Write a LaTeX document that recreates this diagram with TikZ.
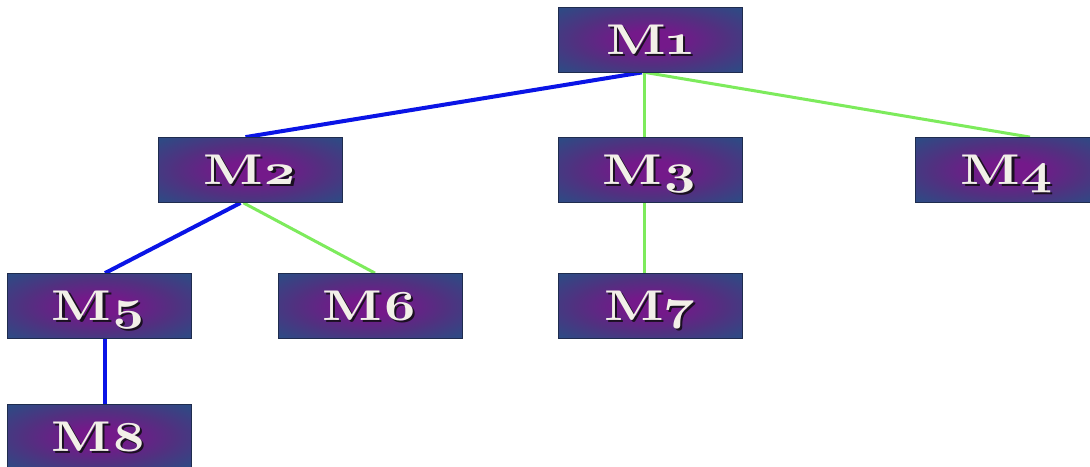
\documentclass[tikz,border=0pt]{standalone}
\usepackage{fontspec}
\usetikzlibrary{calc,backgrounds}
% wide bold Latin Modern with old-style figures
\newfontfamily\mfont{lmroman10-bold}[Extension=.otf, Numbers=OldStyle, FakeStretch=1.27]
\definecolor{boxblue}{HTML}{2E4A84}
\definecolor{boxmid}{HTML}{523080}
\definecolor{boxpurple}{HTML}{74198A}
\definecolor{boxline}{HTML}{1F2C4E}
\definecolor{linkblue}{HTML}{0A14E6}
\definecolor{linkgreen}{HTML}{7DEB5C}
\definecolor{labelwhite}{HTML}{F2F0E8}
\definecolor{labelshade}{HTML}{1A1020}
\pgfdeclareradialshading{boxglow}{\pgfpoint{0bp}{0bp}}{%
  color(0bp)=(boxpurple); color(7bp)=(boxpurple); color(20bp)=(boxmid);
  color(34bp)=(boxblue); color(50bp)=(boxblue)}
\newcommand{\mname}[1]{\fontsize{43}{43}\mfont M#1}
\tikzset{
  mbox/.style={draw=boxline, line width=0.8pt, shading=boxglow,
    minimum width=184pt, minimum height=65pt, inner sep=0pt},
  mtext/.style={text=labelwhite, inner sep=0pt, text height=29pt, text depth=0pt},
  mshade/.style={text=labelshade, inner sep=0pt, text height=29pt, text depth=0pt},
  bluelink/.style={draw=linkblue, line width=4pt},
  greenlink/.style={draw=linkgreen, line width=3pt},
}
\newcommand{\mnode}[3]{%
  \node[mbox] (#1) at (#2) {};
  \node[mshade] at ([shift={(2.2,2.2)}]#1.center) {\mname{#3}};
  \node[mtext] (#1t) at (#1.center) {\mname{#3}};
}
\begin{document}
\begin{tikzpicture}[x=1pt,y=-1pt]
\useasboundingbox (0,0) rectangle (1090,466);
\clip (0,0) rectangle (1090,466);

% module boxes
\mnode{m1}{650,39.5}{1}
\mnode{m2}{250.5,170}{2}
\mnode{m3}{650,170}{3}
\mnode{m4}{1007,170}{4}
\mnode{m5}{99,306}{5}
\mnode{m6}{370,306}{6}
\mnode{m7}{650,306}{7}
\mnode{m8}{99,437}{8}

% connectors behind the boxes
\begin{pgfonlayer}{background}
\fill[white] (0,0) rectangle (1090,466);
\draw[bluelink]  ([xshift=-8pt]m1.south) -- ([xshift=-5pt]m2.north);
\draw[greenlink] ([xshift=-6pt]m1.south) -- ([xshift=-6pt]m3.north);
\draw[greenlink] ([xshift=-5pt]m1.south) -- ([xshift=23pt]m4.north);
\draw[bluelink]  ([xshift=-10pt]m2.south) -- ([xshift=6pt]m5.north);
\draw[greenlink] ([xshift=-7pt]m2.south) -- ([xshift=5pt]m6.north);
\draw[greenlink] ([xshift=-6pt]m3.south) -- ([xshift=-6pt]m7.north);
\draw[bluelink]  ([xshift=6pt]m5.south) -- ([xshift=6pt]m8.north);
\end{pgfonlayer}
\end{tikzpicture}
\end{document}
